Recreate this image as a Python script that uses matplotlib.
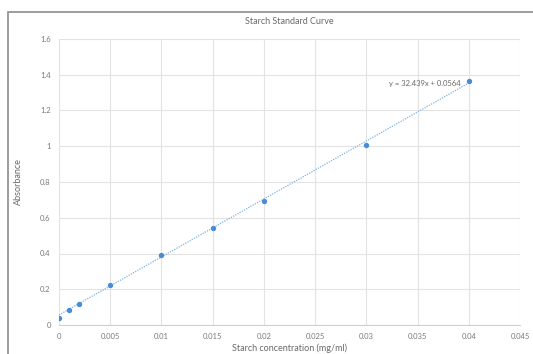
"""Starch standard curve: absorbance against starch concentration with linear trendline."""
import numpy as np
import matplotlib
matplotlib.use('Agg')
import matplotlib.pyplot as plt
from matplotlib.patches import Rectangle
from matplotlib.ticker import FuncFormatter, MultipleLocator

conc = [0, 0.001, 0.002, 0.005, 0.01, 0.015, 0.02, 0.03, 0.04]
absorbance = [0.04, 0.085, 0.12, 0.225, 0.39, 0.545, 0.695, 1.005, 1.365]
slope = 32.439
intercept = 0.0564

plt.rcParams['font.family'] = ['Lato', 'DejaVu Sans']

fig = plt.figure(figsize=(5.33, 3.54), dpi=100)
fig.patches.append(Rectangle((8 / 533, -0.1), 1.2, 1 - 12 / 354 + 0.1,
                             transform=fig.transFigure, fill=False,
                             edgecolor='#8c8c8c', lw=1.2))
ax = fig.add_axes([59 / 533, 1 - 325 / 354, 461 / 533, 286 / 354])

grid_col = '#e3e3e3'
ax.set_xlim(0, 0.045)
ax.set_ylim(0, 1.6)
ax.xaxis.set_major_locator(MultipleLocator(0.005))
ax.yaxis.set_major_locator(MultipleLocator(0.2))
ax.grid(True, color=grid_col, lw=0.8)
ax.set_axisbelow(True)
for s in ax.spines.values():
    s.set_visible(False)
ax.spines['bottom'].set_visible(True)
ax.spines['bottom'].set_color('#d0d0d0')


def fmt(v, pos):
    s = '{:.3f}'.format(v).rstrip('0').rstrip('.')
    return s


ax.xaxis.set_major_formatter(FuncFormatter(fmt))
ax.yaxis.set_major_formatter(FuncFormatter(fmt))
ax.tick_params(length=0, labelsize=5.5, labelcolor='#7a7a7a', pad=6)

xs = np.array([conc[0], conc[-1]])
ax.plot(xs, slope * xs + intercept, ls=(0, (1, 1)), color='#7fb1e0', lw=0.9)
ax.scatter(conc, absorbance, s=8, color='#4a8bd6', zorder=3)

ax.text(0.0392, 1.35, 'y = 32.439x + 0.0564', fontsize=5.5, color='#6a6a6a',
        ha='right', va='center')
ax.set_title('Starch Standard Curve', fontsize=6.5, color='#6a6a6a', pad=11)
ax.set_xlabel('Starch concentration (mg/ml)', fontsize=6.5, color='#6a6a6a', labelpad=2)
ax.set_ylabel('Absorbance', fontsize=6.5, color='#6a6a6a', labelpad=12)

fig.savefig('out.png', dpi=100)
